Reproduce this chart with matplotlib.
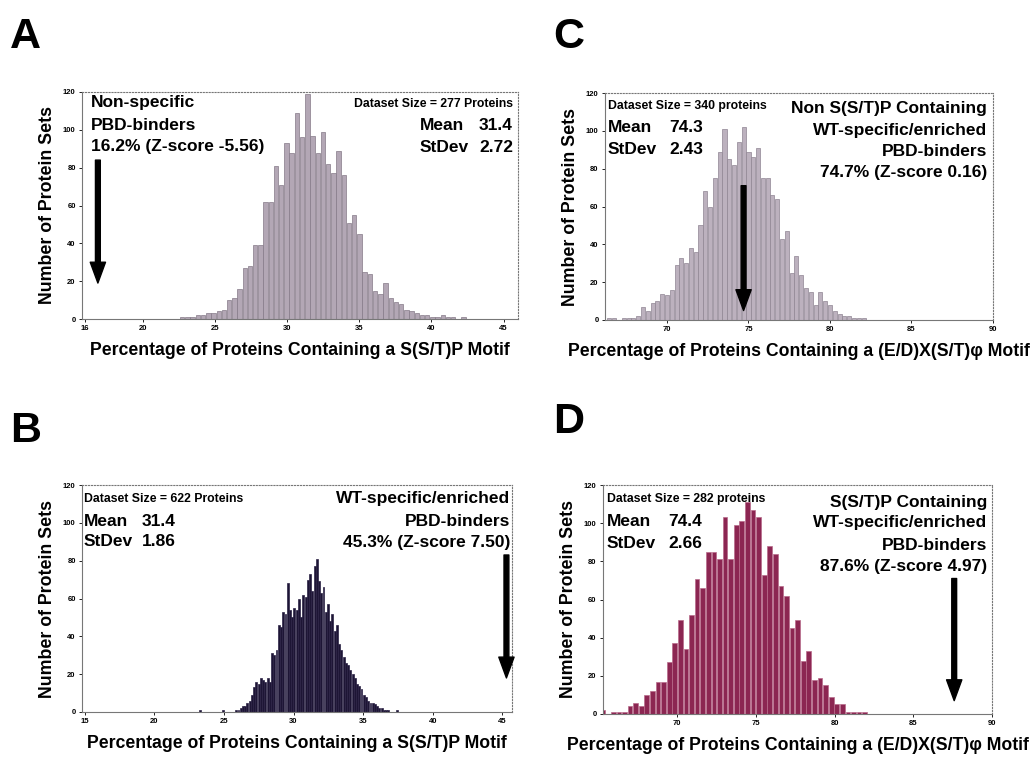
import numpy as np
import matplotlib
matplotlib.use("Agg")
import matplotlib.pyplot as plt

plt.rcParams["font.family"] = ["Liberation Sans", "DejaVu Sans"]
plt.rcParams["font.weight"] = "bold"

# === Dados (contagens) ===
# A: S(S/T)P, não específicos (277 proteínas)
n_a = 277
k0_a = 63
h_a = [1, 1, 1, 2, 2, 3, 3, 4, 5, 10, 11, 16, 27, 28, 39, 39, 62, 62, 81, 71,
       93, 88, 109, 96, 119, 97, 88, 99, 82, 77, 89, 76, 51, 55, 45, 25, 24, 15,
       13, 19, 11, 9, 8, 5, 4, 3, 2, 2, 1, 1, 2, 1, 1, 0, 1]

# B: S(S/T)P, WT-específicos (622 proteínas)
n_b = 622
k0_b = 145
h_b = [1, 0, 0, 0, 0, 0, 0, 0, 0, 0, 1, 0, 0, 0, 0, 0, 1, 1, 2, 3,
       3, 5, 6, 9, 13, 16, 15, 18, 17, 16, 18, 16, 31, 30, 33, 46, 45, 53, 52, 68,
       54, 50, 55, 54, 60, 50, 62, 61, 70, 73, 64, 77, 81, 69, 63, 66, 53, 57, 48, 52,
       43, 46, 36, 33, 29, 26, 25, 22, 20, 18, 15, 14, 12, 9, 8, 6, 5, 5, 4, 3,
       2, 2, 1, 1, 1, 0, 0, 0, 1]

# C: (E/D)X(S/T)phi, sem S(S/T)P (340 proteínas)
n_c = 340
k0_c = 226
h_c = [1, 1, 0, 1, 1, 1, 2, 7, 5, 9, 10, 14, 13, 16, 29, 33, 30, 38, 36, 50,
       68, 60, 75, 89, 101, 85, 82, 94, 102, 89, 86, 91, 75, 75, 66, 64, 43, 47, 25, 34,
       24, 17, 15, 8, 15, 10, 8, 5, 3, 2, 2, 1, 1, 1]

# D: (E/D)X(S/T)phi, com S(S/T)P (282 proteínas)
n_d = 282
k0_d = 184
h_d = [2, 0, 1, 1, 1, 4, 6, 4, 10, 12, 17, 17, 27, 37, 49, 34, 52, 71, 66, 85,
       85, 81, 103, 81, 99, 101, 111, 107, 103, 73, 88, 84, 67, 62, 45, 49, 28, 33, 18, 19,
       15, 9, 5, 5, 1, 1, 1, 1]

xlabel_sstp = "Percentage of Proteins Containing a S(S/T)P Motif"
xlabel_edx = "Percentage of Proteins Containing a (E/D)X(S/T)\u03c6 Motif"

W, H = 1035, 757


def px(x, y):
    return x / W, 1 - y / H


def painel(rect, n, k0, h, cor, borda, xlim, xticks, arrow_x, arrow_top, arrow_tip, xlabel):
    ax = fig.add_axes(rect)
    passo = 100.0 / n
    x = (k0 + np.arange(len(h))) * passo
    ax.bar(x, h, width=passo * 0.85, color=cor, edgecolor=borda, linewidth=0.5)
    ax.set_xlim(*xlim)
    ax.set_ylim(0, 120)
    ax.set_yticks([0, 20, 40, 60, 80, 100, 120])
    ax.set_xticks(xticks)
    ax.tick_params(labelsize=5.5, length=2.5, width=0.6, pad=2)
    for s in ax.spines.values():
        s.set_color("#777777")
        s.set_linewidth(0.8)
    ax.spines["top"].set_linestyle(":")
    ax.spines["right"].set_linestyle(":")
    ax.set_ylabel("Number of Protein Sets", fontsize=12.8, fontweight="bold", labelpad=5)
    ax.set_xlabel(xlabel, fontsize=12.7, fontweight="bold", labelpad=7)
    ax.annotate("", xy=(arrow_x, arrow_tip), xytext=(arrow_x, arrow_top),
                arrowprops=dict(facecolor="black", edgecolor="black",
                                width=3.5, headwidth=11, headlength=15))
    return ax


fig = plt.figure(figsize=(10.35, 7.57), dpi=100)

# === A ===
painel([82 / W, 1 - 319 / H, 436 / W, 227 / H], n_a, k0_a, h_a, "#b3a7b5", "#857a88",
       (15.8, 46.0), [16, 20, 25, 30, 35, 40, 45], 16.9, 84, 19, xlabel_sstp)
# === C ===
painel([605 / W, 1 - 320 / H, 388 / W, 227 / H], n_c, k0_c, h_c, "#bcb1be", "#8f8592",
       (66.2, 90.0), [70, 75, 80, 85, 90], 74.7, 71, 5, xlabel_edx)
# === B ===
painel([82 / W, 1 - 712 / H, 430 / W, 227 / H], n_b, k0_b, h_b, "#1d1535", "#2b2245",
       (14.8, 45.7), [15, 20, 25, 30, 35, 40, 45], 45.3, 83, 18, xlabel_sstp)
# === D ===
painel([603 / W, 1 - 714 / H, 389 / W, 229 / H], n_d, k0_d, h_d, "#8c2652", "#b86a8a",
       (65.3, 90.0), [70, 75, 80, 85, 90], 87.6, 71, 7, xlabel_edx)

# letras dos painéis
for letra, (lx, ly) in {"A": (10, 48), "C": (553, 48), "B": (10, 442), "D": (553, 433)}.items():
    fig.text(*px(lx, ly), letra, fontsize=31, fontweight="bold", va="baseline", ha="left")

big = 12.5
small = 8.8

# textos A
fig.text(*px(91, 103), "Non-specific", fontsize=big, va="center", ha="left")
fig.text(*px(91, 125), "PBD-binders", fontsize=big, va="center", ha="left")
fig.text(*px(91, 147), "16.2% (Z-score -5.56)", fontsize=big, va="center", ha="left")
fig.text(*px(513, 104), "Dataset Size = 277 Proteins", fontsize=small, va="center", ha="right")
fig.text(*px(420, 125), "Mean", fontsize=big, va="center", ha="left")
fig.text(*px(513, 125), "31.4", fontsize=big, va="center", ha="right")
fig.text(*px(420, 147), "StDev", fontsize=big, va="center", ha="left")
fig.text(*px(513, 147), "2.72", fontsize=big, va="center", ha="right")

# textos C
fig.text(*px(608, 106), "Dataset Size = 340 proteins", fontsize=small, va="center", ha="left")
fig.text(*px(608, 128), "Mean", fontsize=big, va="center", ha="left")
fig.text(*px(703, 128), "74.3", fontsize=big, va="center", ha="right")
fig.text(*px(608, 149), "StDev", fontsize=big, va="center", ha="left")
fig.text(*px(703, 149), "2.43", fontsize=big, va="center", ha="right")
for yy, t in zip([108, 130, 151, 173], ["Non S(S/T)P Containing", "WT-specific/enriched",
                                        "PBD-binders", "74.7% (Z-score 0.16)"]):
    fig.text(*px(987, yy), t, fontsize=big, va="center", ha="right")

# textos B
fig.text(*px(84, 499), "Dataset Size = 622 Proteins", fontsize=small, va="center", ha="left")
fig.text(*px(84, 521), "Mean", fontsize=big, va="center", ha="left")
fig.text(*px(176, 521), "31.4", fontsize=big, va="center", ha="right")
fig.text(*px(84, 542), "StDev", fontsize=big, va="center", ha="left")
fig.text(*px(176, 542), "1.86", fontsize=big, va="center", ha="right")
for yy, t in zip([499, 521, 543], ["WT-specific/enriched", "PBD-binders", "45.3% (Z-score 7.50)"]):
    fig.text(*px(510, yy), t, fontsize=big, va="center", ha="right")

# textos D
fig.text(*px(607, 499), "Dataset Size = 282 proteins", fontsize=small, va="center", ha="left")
fig.text(*px(607, 522), "Mean", fontsize=big, va="center", ha="left")
fig.text(*px(702, 522), "74.4", fontsize=big, va="center", ha="right")
fig.text(*px(607, 543), "StDev", fontsize=big, va="center", ha="left")
fig.text(*px(702, 543), "2.66", fontsize=big, va="center", ha="right")
for yy, t in zip([502, 523, 545, 567], ["S(S/T)P Containing", "WT-specific/enriched",
                                        "PBD-binders", "87.6% (Z-score 4.97)"]):
    fig.text(*px(987, yy), t, fontsize=big, va="center", ha="right")

fig.savefig("out.png", dpi=100)
